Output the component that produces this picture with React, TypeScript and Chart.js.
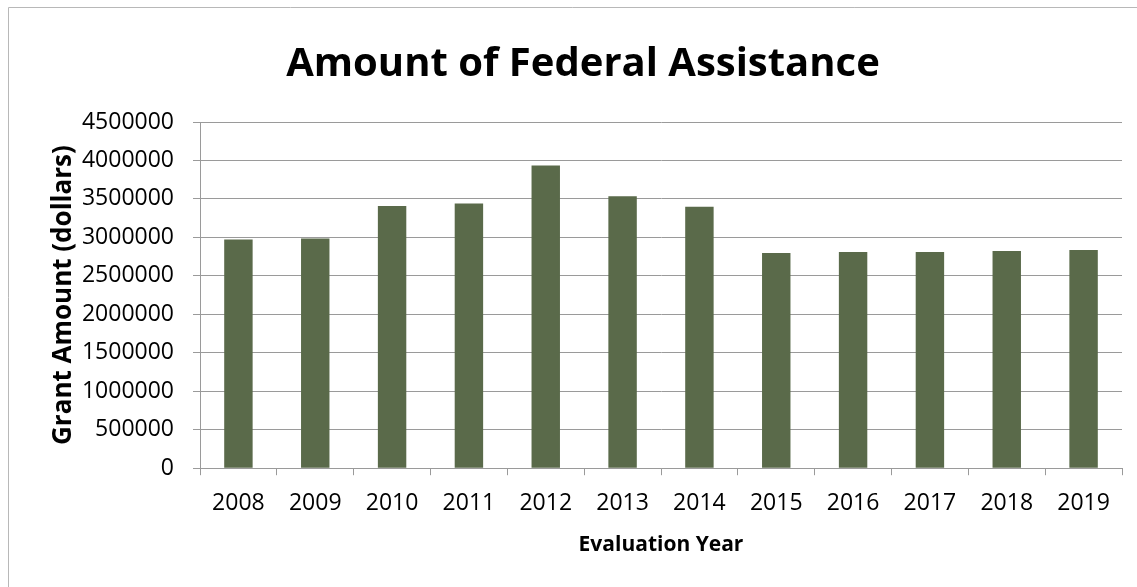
import React, { useEffect, useRef } from "react";
import { Chart, registerables } from "chart.js";

Chart.register(...registerables);

const years = ["2008", "2009", "2010", "2011", "2012", "2013", "2014", "2015", "2016", "2017", "2018", "2019"];
const grantAmounts = [2972000, 2986000, 3407000, 3442000, 3933000, 3534000, 3398000, 2798000, 2811000, 2811000, 2824000, 2837000];
const titleText = "Amount of Federal Assistance";
const xTitle = "Evaluation Year";
const yTitle = "Grant Amount (dollars)";

const FONT = "'Open Sans', 'Noto Sans', sans-serif";

const framePlugin = {
  id: "frame",
  beforeDraw(chart: any) {
    const ctx = chart.ctx;
    ctx.save();
    ctx.fillStyle = "#ffffff";
    ctx.fillRect(0, 0, chart.width, chart.height);
    ctx.strokeStyle = "#b8b8b8";
    ctx.lineWidth = 1;
    ctx.beginPath();
    ctx.moveTo(8.5, chart.height);
    ctx.lineTo(8.5, 7.5);
    ctx.lineTo(chart.width, 7.5);
    ctx.stroke();
    ctx.restore();
  },
};

export default function App() {
  const ref = useRef<HTMLCanvasElement>(null);
  useEffect(() => {
    if (!ref.current) return;
    const chart = new Chart(ref.current, {
      type: "bar",
      data: {
        labels: years,
        datasets: [
          {
            data: grantAmounts,
            backgroundColor: "#5a6a4a",
            barPercentage: 0.37,
            categoryPercentage: 1,
          },
        ],
      },
      options: {
        animation: false,
        responsive: false,
        maintainAspectRatio: false,
        layout: { padding: { left: 44, right: 15, top: 28, bottom: 25 } },
        plugins: {
          legend: { display: false },
          tooltip: { enabled: false },
          title: {
            display: true,
            text: titleText,
            color: "#000",
            font: { family: FONT, size: 40, weight: "bold" },
            padding: { top: 13, bottom: 33 },
          },
        },
        scales: {
          x: {
            grid: {
              drawOnChartArea: false,
              drawTicks: true,
              tickLength: 7,
              color: "#9a9a9a",
              offset: true,
            },
            border: { color: "#9a9a9a" },
            ticks: {
              color: "#000",
              font: { family: FONT, size: 23 },
              padding: 14,
              maxRotation: 0,
            },
            title: {
              display: true,
              text: xTitle,
              color: "#000",
              font: { family: FONT, size: 21, weight: "bold" },
              padding: { top: 2 },
            },
          },
          y: {
            min: 0,
            max: 4500000,
            afterFit: (scale: any) => {
              scale.width = 156;
            },
            grid: { color: "#9a9a9a", tickLength: 7 },
            border: { color: "#9a9a9a" },
            ticks: {
              stepSize: 500000,
              color: "#000",
              font: { family: FONT, size: 23 },
              padding: 19,
              callback: (v: any) => String(v),
            },
            title: {
              display: true,
              text: yTitle,
              color: "#000",
              font: { family: FONT, size: 26, weight: "bold" },
              padding: { top: 4, bottom: 4 },
            },
          },
        },
      },
      plugins: [framePlugin],
    });
    return () => chart.destroy();
  }, []);
  return (
    <div style={{ position: "fixed", left: 0, top: 0, width: 1137, height: 587 }}>
      <canvas ref={ref} width={1137} height={587} style={{ display: "block" }} />
    </div>
  );
}
